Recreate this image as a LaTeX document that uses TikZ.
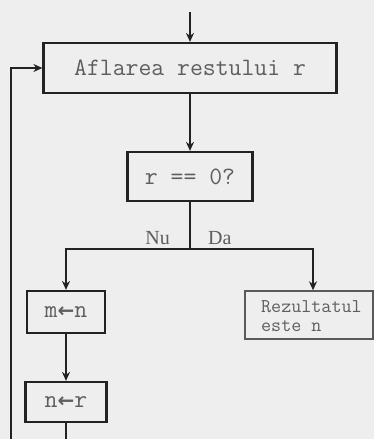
\documentclass[tikz,border=0pt]{standalone}
\usepackage{fontspec}
\setmainfont{Liberation Serif}
\newfontfamily\symfont{DejaVu Sans}
\usetikzlibrary{arrows.meta}
\definecolor{bgcol}{HTML}{EEEEEE}
\definecolor{inkcol}{HTML}{222222}
\definecolor{txtcol}{HTML}{5E5E5E}
\newcommand{\assignarrow}{{\symfont\bfseries\fontsize{20}{20}\selectfont\raisebox{0.5pt}{←}}}
\begin{document}
\begin{tikzpicture}[x=1pt,y=-1pt,
  flowline/.style={draw=inkcol,line width=2pt},
  flowarrow/.style={flowline,-{Stealth[length=9pt,width=8pt]}},
  stepbox/.style={draw=inkcol,line width=2.2pt,fill=bgcol,text=txtcol,
    inner sep=0pt,font=\ttfamily\fontsize{25}{25}\selectfont},
  resultbox/.style={draw=inkcol!75,line width=1.4pt,fill=bgcol,inner sep=0pt},
  resulttext/.style={text=txtcol,inner sep=0pt,align=left,
    font=\ttfamily\fontsize{19.5}{18.5}\selectfont},
  branchlabel/.style={text=txtcol,font=\fontsize{20}{20}\selectfont,inner sep=0pt}]
  % canvas
  \fill[bgcol] (0,0) rectangle (374,439);
  \useasboundingbox (0,0) rectangle (374,439);

  % boxes
  \node[stepbox,minimum width=293pt,minimum height=50pt] (calc) at (190,68) {Aflarea restului r};
  \node[stepbox,minimum width=125pt,minimum height=49pt] (test) at (190,176.5) {r == 0?};
  \node[stepbox,minimum width=78pt,minimum height=42pt] (setm) at (66,312) {m\assignarrow n};
  \node[stepbox,minimum width=81pt,minimum height=40pt] (setn) at (66,402) {n\assignarrow r};
  \node[resultbox,minimum width=128pt,minimum height=48pt] (result) at (309,315) {};
  \node[resulttext,anchor=west] (resultlabel) at (261,316) {Rezultatul\\este n};

  % auxiliary points
  \coordinate (entry) at (190,12);
  \coordinate (split) at (190,249);
  \coordinate (noside) at (66,249);
  \coordinate (yesside) at (313,249);
  \coordinate (tail) at (66,439);
  \coordinate (loopbottom) at (11,439);
  \coordinate (looptop) at (11,68);

  % connectors
  \draw[flowarrow] (entry) -- (calc.north);
  \draw[flowarrow] (calc.south) -- (test.north);
  \draw[flowline] (test.south) -- (split);
  \draw[flowarrow] (split) -- (noside) -- (setm.north);
  \draw[flowarrow] (split) -- (yesside) -- (yesside |- result.north);
  \draw[flowarrow] (setm.south) -- (setn.north);
  \draw[flowline] (setn.south) -- (tail);
  \draw[flowarrow] (loopbottom) -- (looptop) -- (calc.west);

  % branch labels
  \node[branchlabel,anchor=base east] (nolabel) at (170,244) {Nu};
  \node[branchlabel,anchor=base west] (yeslabel) at (208,244) {Da};
\end{tikzpicture}
\end{document}
